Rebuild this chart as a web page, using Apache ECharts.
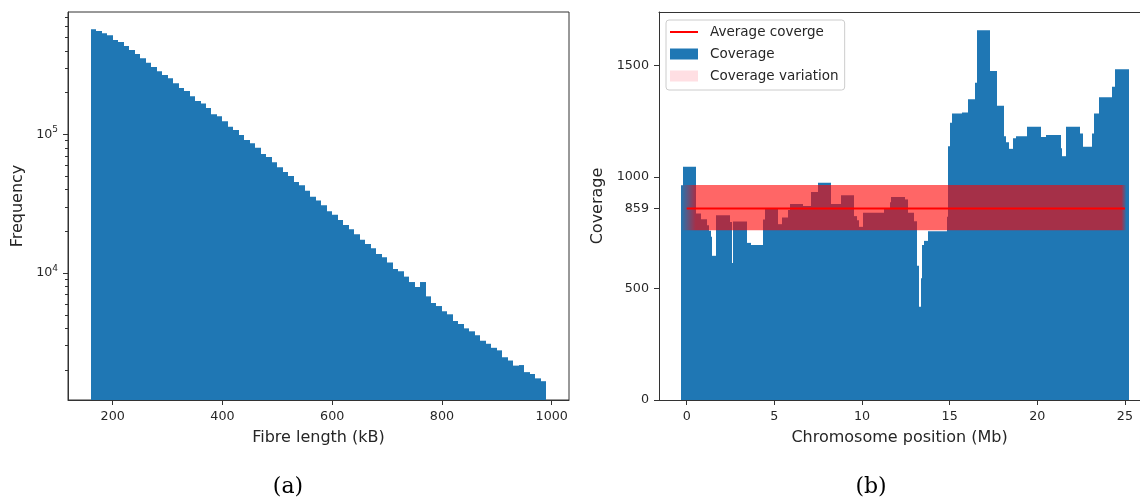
<!DOCTYPE html>
<html>
<head>
<meta charset="utf-8">
<script src="https://cdn.jsdelivr.net/npm/echarts@6/dist/echarts.min.js"></script>
<style>
  html, body { margin: 0; padding: 0; background: #fff; }
  #main { width: 1140px; height: 500px; }
</style>
</head>
<body>
<div id="main"></div>
<script>
// (a) fibre length histogram, 10 kB bins starting at 160 kB
var fibreBinStart = 160;
var fibreBinWidth = 10;
var fibreCounts = [
  571500, 555900, 534600, 517600, 478600, 462400, 433500, 405500, 379300, 353200,
  328100, 305500, 284400, 267900, 253500, 233300, 215800, 205100, 187900, 173800,
  167100, 154900, 139300, 134900, 124200, 113500, 107400, 98900, 91000, 86100,
  80000, 72100, 68500, 62800, 57800, 53500, 50000, 45300, 42900, 39200,
  35500, 33400, 30800, 27900, 26300, 24100, 22200, 20700, 19000, 17400,
  16200, 15100, 13700, 13000, 11900, 10700, 10300, 9420, 8610, 7930,
  8610, 6790, 6080, 5780, 5300, 5040, 4510, 4290, 3990, 3800,
  3560, 3250, 3090, 2890, 2770, 2470, 2340, 2150, 2170, 1930,
  1870, 1740, 1660
];
var fibreTicks = [200, 400, 600, 800, 1000];
var freqTicks = [10000, 100000];

// (b) coverage along the chromosome (Mb), bar edges and heights
var covEdges = [
  -0.35, -0.22, 0.52, 0.82, 1.14, 1.29, 1.37, 1.46, 1.65, 2.49,
  2.57, 2.64, 3.42, 3.67, 4.34, 4.47, 5.23, 5.42, 5.80, 5.90,
  6.66, 7.09, 7.47, 8.24, 8.79, 9.55, 9.70, 9.85, 10.06, 11.28,
  11.57, 11.68, 12.46, 12.60, 12.99, 13.13, 13.26, 13.35, 13.41, 13.51,
  13.79, 14.84, 14.93, 15.03, 15.14, 15.73, 16.02, 16.42, 16.55, 17.31,
  17.73, 18.11, 18.22, 18.36, 18.64, 18.78, 19.44, 20.20, 20.51, 21.34,
  21.42, 21.63, 22.41, 22.60, 23.11, 23.23, 23.52, 24.24, 24.43, 25.21
];
var coverage = [
  964, 1047, 837, 811, 784, 759, 732, 647, 829, 799,
  615, 801, 705, 695, 810, 859, 789, 819, 852, 879,
  871, 933, 975, 880, 919, 825, 807, 777, 840, 860,
  887, 911, 900, 840, 802, 602, 418, 546, 695, 714,
  757, 822, 1139, 1244, 1286, 1290, 1349, 1424, 1659, 1476,
  1320, 1184, 1156, 1127, 1174, 1183, 1226, 1180, 1189, 1130,
  1094, 1226, 1196, 1136, 1196, 1286, 1358, 1406, 1484
];
var avgCoverage = 859;
var avgSpan = [0, 25];
var bandLow = 762;
var bandHigh = 965;
var bandSpan = [-0.35, 25.05];
var posTicks = [0, 5, 10, 15, 20, 25];
var covTicks = [0, 500, 859, 1000, 1500];

var blue = "#1f77b4";
var ink = "#262626";
var spine = "#333";
var font = "DejaVu Sans";

var myChart = echarts.init(document.getElementById("main"));

var yMinA = 1215, yMaxA = 761800;

var histData = fibreCounts.map(function (c, i) {
  var x0 = fibreBinStart + i * fibreBinWidth;
  return [x0, x0 + fibreBinWidth, c];
});
var covData = coverage.map(function (c, i) {
  return [covEdges[i], covEdges[i + 1], c];
});

// minor ticks of the log axis: 2..9 x 10^k
var minorTicks = [];
[1000, 10000, 100000].forEach(function (d) {
  for (var m = 2; m <= 9; m++) {
    if (m * d > yMinA && m * d < yMaxA) minorTicks.push(m * d);
  }
});

// bars snapped to whole pixels so neighbours meet without seams
function rectItem(base) {
  return function (params, api) {
    var p0 = api.coord([api.value(0), api.value(2)]);
    var p1 = api.coord([api.value(1), base]);
    var x0 = Math.round(p0[0]), x1 = Math.round(p1[0]);
    if (x1 - x0 < 1) x1 = x0 + 1;
    return {
      type: "rect",
      shape: { x: x0, y: p0[1], width: x1 - x0, height: p1[1] - p0[1] },
      style: { fill: blue }
    };
  };
}

function plain(v) { return String(v); }

var tickStyle = { color: spine, width: 1 };
var labelBase = { color: ink, fontFamily: font, fontSize: 12.7, formatter: plain };
var nameStyle = { color: ink, fontSize: 16, fontFamily: font };

var option = {
  animation: false,
  textStyle: { fontFamily: font },
  grid: [
    { left: 68, top: 12, width: 501, height: 388, show: true, borderColor: spine, borderWidth: 1 },
    { left: 659, top: 12, width: 481, height: 388 }
  ],
  xAxis: [
    {
      gridIndex: 0, type: "value", min: 118.5, max: 1031.5,
      name: "Fibre length (kB)", nameLocation: "middle", nameGap: 30, nameTextStyle: nameStyle,
      axisLine: { onZero: false, lineStyle: { color: spine } },
      axisTick: { show: true, length: 5, customValues: fibreTicks, lineStyle: tickStyle },
      axisLabel: Object.assign({ customValues: fibreTicks, margin: 10 }, labelBase),
      splitLine: { show: false }
    },
    {
      gridIndex: 1, type: "value", min: -1.58, max: 25.86,
      name: "Chromosome position (Mb)", nameLocation: "middle", nameGap: 30, nameTextStyle: nameStyle,
      axisLine: { onZero: false, lineStyle: { color: spine } },
      axisTick: { show: true, length: 5, customValues: posTicks, lineStyle: tickStyle },
      axisLabel: Object.assign({ customValues: posTicks, margin: 10 }, labelBase),
      splitLine: { show: false }
    },
    {
      // top spine of panel (b)
      gridIndex: 1, type: "value", min: -1.58, max: 25.86, position: "top",
      axisLine: { onZero: false, lineStyle: { color: spine } },
      axisTick: { show: false }, axisLabel: { show: false }, splitLine: { show: false }
    }
  ],
  yAxis: [
    {
      gridIndex: 0, type: "log", logBase: 10, min: yMinA, max: yMaxA,
      name: "Frequency", nameLocation: "middle", nameGap: 42, nameTextStyle: nameStyle,
      axisLine: { show: true, onZero: false, lineStyle: { color: spine } },
      axisTick: { show: true, length: 5, customValues: freqTicks, lineStyle: tickStyle },
      axisLabel: {
        customValues: freqTicks, margin: 10, color: ink,
        formatter: function (v) {
          return "{b|10}{s|" + Math.round(Math.log10(v)) + "}";
        },
        rich: {
          b: { fontSize: 12.7, fontFamily: font, color: ink, lineHeight: 18 },
          s: { fontSize: 9, fontFamily: font, color: ink, lineHeight: 9, verticalAlign: "top" }
        }
      },
      splitLine: { show: false }
    },
    {
      gridIndex: 0, type: "log", logBase: 10, min: yMinA, max: yMaxA, position: "left",
      axisLine: { show: false, onZero: false },
      axisTick: { show: true, length: 3, customValues: minorTicks, lineStyle: tickStyle },
      axisLabel: { show: false },
      splitLine: { show: false }
    },
    {
      gridIndex: 1, type: "value", min: 0, max: 1741,
      name: "Coverage", nameLocation: "middle", nameGap: 53, nameTextStyle: nameStyle,
      axisLine: { show: true, onZero: false, lineStyle: { color: spine } },
      axisTick: { show: true, length: 5, customValues: covTicks, lineStyle: tickStyle },
      axisLabel: Object.assign({ customValues: covTicks, margin: 10 }, labelBase),
      splitLine: { show: false }
    }
  ],
  legend: {
    orient: "vertical", left: 666, top: 20,
    padding: [5, 6, 7, 4], itemGap: 8, itemWidth: 28, itemHeight: 11,
    backgroundColor: "rgba(255,255,255,0.8)", borderColor: "#ccc", borderWidth: 1, borderRadius: 3,
    selectedMode: false,
    textStyle: { color: ink, fontSize: 13.5, fontFamily: font, lineHeight: 14, padding: [0, 0, 0, 7] },
    data: [
      {
        name: "Average coverge",
        icon: "path://M0,0L28,0L28,0.01L0,0.01ZM0,4.6L28,4.6L28,6.6L0,6.6ZM0,10.99L28,10.99L28,11L0,11Z",
        itemStyle: { color: "#ff0000" }
      },
      { name: "Coverage", icon: "rect" },
      { name: "Coverage variation", icon: "rect", itemStyle: { color: "#ffdfe3" } }
    ]
  },
  series: [
    {
      name: "Fibres", type: "custom", xAxisIndex: 0, yAxisIndex: 0,
      encode: { x: [0, 1], y: 2 },
      renderItem: rectItem(yMinA),
      data: histData
    },
    {
      name: "Coverage", type: "custom", xAxisIndex: 1, yAxisIndex: 2,
      encode: { x: [0, 1], y: 2 },
      itemStyle: { color: blue },
      renderItem: rectItem(0),
      data: covData
    },
    {
      name: "Coverage variation", type: "custom", xAxisIndex: 1, yAxisIndex: 2,
      encode: { x: [0, 1], y: [2, 3] },
      itemStyle: { color: "#ff6666" },
      renderItem: function (params, api) {
        var p0 = api.coord([api.value(0), api.value(3)]);
        var p1 = api.coord([api.value(1), api.value(2)]);
        return {
          type: "rect",
          shape: { x: p0[0], y: p0[1], width: p1[0] - p0[0], height: p1[1] - p0[1] },
          style: {
            fill: {
              type: "linear", x: 0, y: 0, x2: 1, y2: 0,
              colorStops: [
                { offset: 0, color: "rgba(255,0,0,0)" },
                { offset: 0.034, color: "rgba(255,0,0,0.6)" },
                { offset: 0.99, color: "rgba(255,0,0,0.6)" },
                { offset: 1, color: "rgba(255,0,0,0.1)" }
              ]
            }
          }
        };
      },
      data: [[bandSpan[0], bandSpan[1], bandLow, bandHigh]]
    },
    {
      name: "Average coverge", type: "line", xAxisIndex: 1, yAxisIndex: 2,
      symbol: "none",
      lineStyle: { color: "#ff0000", width: 2 },
      itemStyle: { color: "#ff0000" },
      data: [[avgSpan[0], avgCoverage], [avgSpan[1], avgCoverage]]
    }
  ],
  graphic: [
    { type: "text", x: 288, y: 487, style: { text: "(a)", font: '22px "DejaVu Serif"', fill: "#000", align: "center", verticalAlign: "middle" } },
    { type: "text", x: 871, y: 487, style: { text: "(b)", font: '22px "DejaVu Serif"', fill: "#000", align: "center", verticalAlign: "middle" } }
  ]
};

myChart.setOption(option);
</script>
</body>
</html>
